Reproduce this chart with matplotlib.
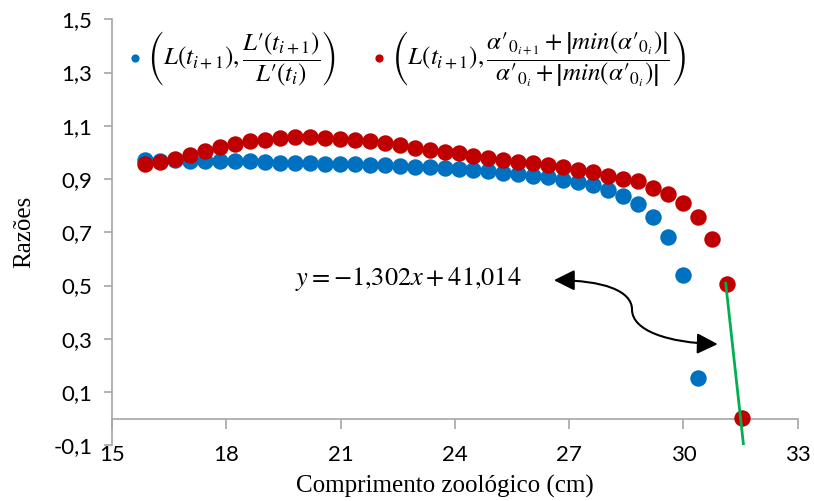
import matplotlib
matplotlib.use("Agg")
import matplotlib.pyplot as plt
from matplotlib.patches import FancyArrowPatch
from matplotlib.path import Path

# comprimento zoologico (cm)
comprimento = [15.87, 16.26, 16.65, 17.05, 17.44, 17.83, 18.23, 18.62, 19.02, 19.41,
               19.80, 20.20, 20.59, 20.98, 21.38, 21.77, 22.17, 22.56, 22.95, 23.35,
               23.74, 24.10, 24.48, 24.87, 25.26, 25.66, 26.05, 26.44, 26.84, 27.23,
               27.62, 28.02, 28.41, 28.81, 29.20, 29.59, 29.99, 30.38, 30.76, 31.14,
               31.54]

razao_L = [0.970, 0.968, 0.970, 0.966, 0.966, 0.966, 0.967, 0.966, 0.964, 0.961,
           0.960, 0.960, 0.958, 0.957, 0.955, 0.953, 0.951, 0.949, 0.947, 0.944,
           0.941, 0.938, 0.934, 0.929, 0.923, 0.919, 0.913, 0.907, 0.898, 0.888,
           0.876, 0.857, 0.836, 0.807, 0.759, 0.682, 0.540, 0.154]

razao_alpha = [0.955, 0.963, 0.976, 0.992, 1.005, 1.022, 1.032, 1.041, 1.048, 1.053,
               1.057, 1.057, 1.054, 1.051, 1.047, 1.041, 1.034, 1.027, 1.018, 1.009,
               1.001, 0.997, 0.988, 0.979, 0.972, 0.963, 0.959, 0.951, 0.944, 0.934,
               0.926, 0.913, 0.901, 0.891, 0.867, 0.844, 0.811, 0.759, 0.675, 0.507,
               0.003]

# linha de tendencia dos dois ultimos pontos
inclinacao = -1.302
intercepto = 41.014
trend_x = [31.11, 31.58]

xticks = [15, 18, 21, 24, 27, 30, 33]
yticks = [-0.1, 0.1, 0.3, 0.5, 0.7, 0.9, 1.1, 1.3, 1.5]

label_L = r"$\left(L(t_{i+1}),\dfrac{L′(t_{i+1})}{L′(t_i)}\right)$"
label_alpha = (r"$\left(L(t_{i+1}),\dfrac{α′_{0_{i+1}}+\left|min(α′_{0_i})\right|}"
               r"{α′_{0_i}+\left|min(α′_{0_i})\right|}\right)$")

plt.rcParams['mathtext.fontset'] = 'stix'

fig = plt.figure(figsize=(8.14, 5.01), dpi=100)
ax = fig.add_axes([0.1376, 0.1112, 0.8424, 0.8503])

ax.scatter(comprimento[:len(razao_L)], razao_L, s=140, color='#0070C0',
           linewidths=0, label=label_L, zorder=3)
ax.scatter(comprimento, razao_alpha, s=140, color='#C00000',
           linewidths=0, label=label_alpha, zorder=4)

ty = [inclinacao * x + intercepto for x in trend_x]
ax.plot(trend_x, ty, color='#00B050', lw=2, zorder=5)

ax.set_xlim(15, 33)
ax.set_ylim(-0.1, 1.5)

gray = '#A6A6A6'
for s in ['top', 'right']:
    ax.spines[s].set_visible(False)
ax.spines['left'].set_color(gray)
ax.spines['left'].set_linewidth(1.2)
ax.spines['bottom'].set_color(gray)
ax.spines['bottom'].set_linewidth(1.2)
ax.spines['bottom'].set_position(('data', 0))

tick_font = {'family': 'Lato', 'size': 16}
ax.set_yticks(yticks)
ax.set_yticklabels([f"{v:.1f}".replace('.', ',') for v in yticks], fontdict=tick_font)
ax.tick_params(axis='y', length=6, width=1.2, color=gray, pad=8)
ax.set_xticks(xticks)
ax.tick_params(axis='x', length=7, width=1.2, color=gray, labelbottom=False)

# rotulos do eixo x ficam em baixo, no -0,1
sec = ax.secondary_xaxis(0)
sec.set_xticks(xticks)
sec.set_xticklabels([str(v) for v in xticks], fontdict=tick_font)
sec.tick_params(axis='x', length=0, pad=0)
sec.spines['bottom'].set_visible(False)

ax.set_xlabel('Comprimento zoológico (cm)', family='Liberation Serif', fontsize=18)
ax.set_ylabel('Razões', family='Liberation Serif', fontsize=18)
ax.xaxis.set_label_coords(0.486, -0.07)
ax.yaxis.set_label_coords(-0.112, 0.5)

ax.text(19.80, 0.524, r"$y=-1{,}302x+41{,}014$", fontsize=19, va='center', ha='left')

# seta curva dupla
p0 = (26.6, 0.52)
p3 = (30.9, 0.28)
verts = [p0, (27.9, 0.52), (28.65, 0.48), (28.65, 0.41),
         (28.65, 0.33), (29.6, 0.285), p3]
codes = [Path.MOVETO, Path.CURVE4, Path.CURVE4, Path.CURVE4,
         Path.CURVE4, Path.CURVE4, Path.CURVE4]
arrow = FancyArrowPatch(path=Path(verts, codes),
                        arrowstyle='<|-|>,head_length=0.9,head_width=0.45',
                        mutation_scale=14, color='black', lw=1.5)
ax.add_patch(arrow)

leg = ax.legend(loc='upper left', bbox_to_anchor=(0.0, 1.0), ncol=2, frameon=False,
                fontsize=18, markerscale=0.5, handletextpad=0.0, handlelength=1.0,
                columnspacing=1.2, borderaxespad=0)

fig.savefig('out.png', dpi=100)
